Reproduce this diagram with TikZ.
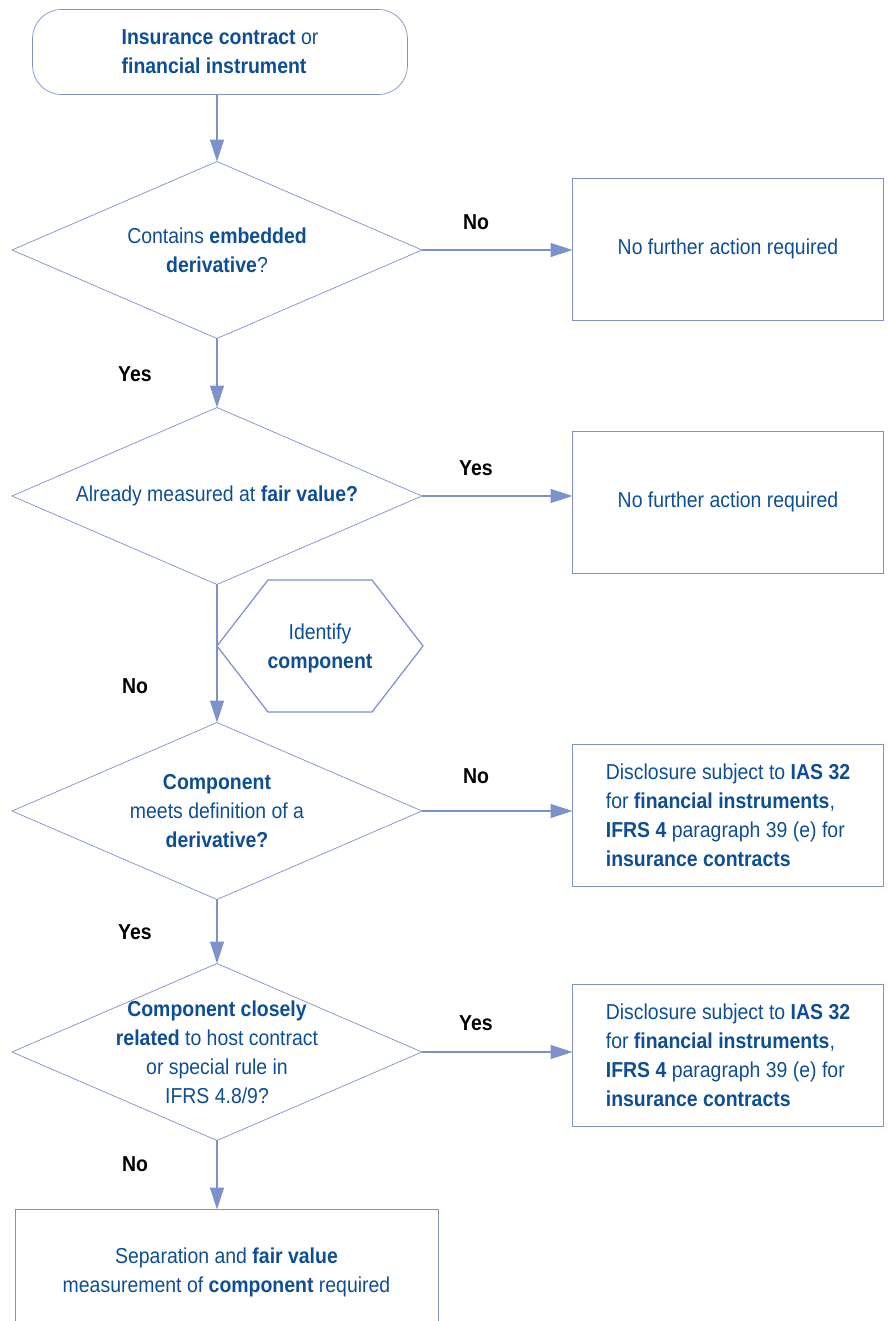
\documentclass[tikz,border=0pt]{standalone}
\usepackage{fontspec}
\setmainfont{Liberation Sans}[FakeStretch=0.9]
\usepackage{xcolor}
\usepackage{tikz}
\usetikzlibrary{shapes.geometric, arrows.meta, positioning}

\definecolor{ifrsblue}{RGB}{13,78,150}
\definecolor{ifrsline}{RGB}{125,146,202}

\begin{document}
\begin{tikzpicture}[
	x=0.02cm, y=-0.02cm,
	every node/.style={font=\fontsize{12.3}{16.5}\selectfont, text=ifrsblue, outer sep=0pt},
	startbox/.style={rectangle, draw=ifrsline, rounded corners=0.58cm, minimum width=7.5cm, minimum height=1.7cm, align=left},
	decision/.style={diamond, aspect=2.33, draw=ifrsline, minimum width=8.2cm, minimum height=3.54cm, align=center, inner sep=0pt},
	endbox/.style={rectangle, draw=ifrsline, minimum width=6.22cm, minimum height=2.84cm, align=center},
	infobox/.style={endbox, align=left},
	answer/.style={font=\fontsize{12.3}{16.5}\selectfont\bfseries, text=black},
	arrow/.style={-{Triangle[length=0.44cm, width=0.28cm]}, draw=ifrsline, line width=0.7pt},
	line/.style={draw=ifrsline, line width=0.7pt}
	]
	\useasboundingbox (0,0) rectangle (887,1321);
	
	% Start
	\node[startbox] (start) at (220,52) {\textbf{Insurance contract} or\\\textbf{financial instrument}};
	
	% Decisions
	\node[decision] (embedded) at (217,250) {Contains \textbf{embedded}\\\textbf{derivative}?};
	\node[decision] (fairvalue) at (217,496) {Already measured at \textbf{fair value?}};
	\node[decision] (definition) at (217,811) {\textbf{Component}\\meets definition of a\\\textbf{derivative?}};
	\node[decision] (related) at (217,1052) {};
	\node[align=center] (relatedtext) at (related) {\textbf{Component closely}\\\textbf{related} to host contract\\or special rule in\\IFRS 4.8/9?};
	
	% Results on the right
	\node[endbox] (noaction1) at (728,249) {No further action required};
	\node[endbox] (noaction2) at (728,502) {No further action required};
	\node[infobox] (disclose1) at (728,815) {Disclosure subject to \textbf{IAS 32}\\for \textbf{financial instruments},\\\textbf{IFRS 4} paragraph 39 (e) for\\\textbf{insurance contracts}};
	\node[infobox] (disclose2) at (728,1055) {Disclosure subject to \textbf{IAS 32}\\for \textbf{financial instruments},\\\textbf{IFRS 4} paragraph 39 (e) for\\\textbf{insurance contracts}};
	
	% Separation
	\node[endbox, minimum width=8.46cm, minimum height=2.5cm] (separate) at (226.5,1272) {Separation and \textbf{fair value}\\measurement of \textbf{component} required};
	
	% Identify component
	\draw[line] (217,646) -- (268,580) -- (372,580) -- (423,646) -- (372,712) -- (268,712) -- cycle;
	\node[align=center] (identify) at (320,648) {Identify\\\textbf{component}};
	
	% Connexions
	\draw[arrow] (start.south -| embedded.north) -- (embedded.north);
	\draw[arrow] (embedded) -- (fairvalue);
	\draw[arrow] (fairvalue) -- (definition);
	\draw[arrow] (definition) -- (related);
	\draw[arrow] (related.south) -- (related.south |- separate.north);
	\draw[arrow] (embedded.east) -- (embedded.east -| noaction1.west);
	\draw[arrow] (fairvalue.east) -- (fairvalue.east -| noaction2.west);
	\draw[arrow] (definition.east) -- (definition.east -| disclose1.west);
	\draw[arrow] (related.east) -- (related.east -| disclose2.west);
	
	% Yes / No
	\node[answer] (no1) at (476,222) {No};
	\node[answer] (yes2) at (476,468) {Yes};
	\node[answer] (no3) at (476,776) {No};
	\node[answer] (yes4) at (476,1023) {Yes};
	\node[answer] (yes1) at (135,374) {Yes};
	\node[answer] (no2) at (135,686) {No};
	\node[answer] (yes3) at (135,932) {Yes};
	\node[answer] (no4) at (135,1164) {No};
	
\end{tikzpicture}
\end{document}
